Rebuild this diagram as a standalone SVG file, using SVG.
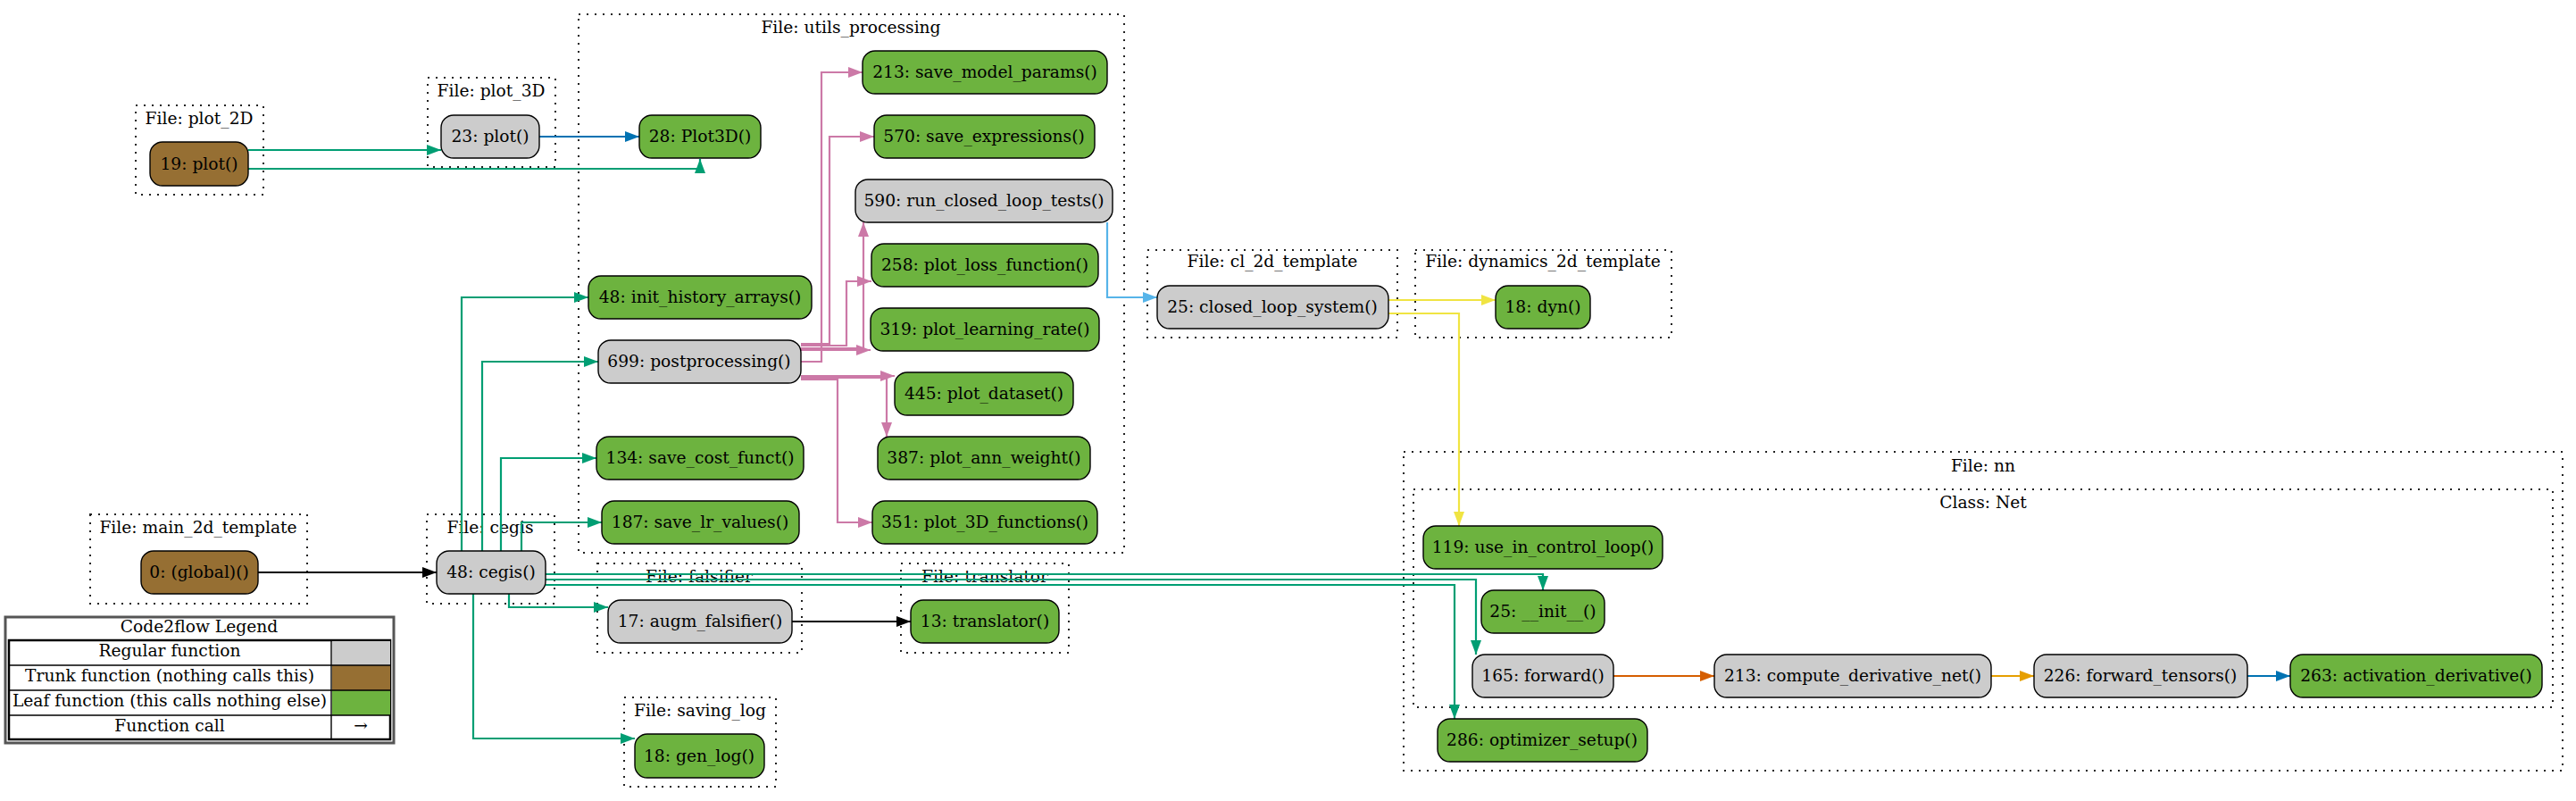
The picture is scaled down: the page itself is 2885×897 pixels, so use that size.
<svg xmlns="http://www.w3.org/2000/svg" width="2885" height="897" viewBox="0 0 2885 897">
<style>
text{font-family:"DejaVu Serif","Liberation Serif",serif;font-size:18.67px;fill:#000;text-anchor:middle}
.cl{fill:none;stroke:#222;stroke-width:2;stroke-dasharray:2,7}
.n rect{stroke:#000;stroke-width:1.4}
.reg{fill:#cccccc}
.trk{fill:#966f33}
.leaf{fill:#6db33f}
.e{fill:none;stroke-width:2.2}
.g{stroke:#009e73}.p{stroke:#cc79a7}.b{stroke:#0072b2}.s{stroke:#56b4e9}.y{stroke:#f0e442}.k{stroke:#000}.o{stroke:#e69f00}.v{stroke:#d55e00}
</style>
<defs>
<marker id="ag" markerUnits="userSpaceOnUse" markerWidth="17" markerHeight="13" refX="16" refY="6" orient="auto"><path d="M0,0L16,6L0,12z" fill="#009e73"/></marker>
<marker id="ap" markerUnits="userSpaceOnUse" markerWidth="17" markerHeight="13" refX="16" refY="6" orient="auto"><path d="M0,0L16,6L0,12z" fill="#cc79a7"/></marker>
<marker id="ab" markerUnits="userSpaceOnUse" markerWidth="17" markerHeight="13" refX="16" refY="6" orient="auto"><path d="M0,0L16,6L0,12z" fill="#0072b2"/></marker>
<marker id="as" markerUnits="userSpaceOnUse" markerWidth="17" markerHeight="13" refX="16" refY="6" orient="auto"><path d="M0,0L16,6L0,12z" fill="#56b4e9"/></marker>
<marker id="ay" markerUnits="userSpaceOnUse" markerWidth="17" markerHeight="13" refX="16" refY="6" orient="auto"><path d="M0,0L16,6L0,12z" fill="#f0e442"/></marker>
<marker id="ak" markerUnits="userSpaceOnUse" markerWidth="17" markerHeight="13" refX="16" refY="6" orient="auto"><path d="M0,0L16,6L0,12z" fill="#000"/></marker>
<marker id="ao" markerUnits="userSpaceOnUse" markerWidth="17" markerHeight="13" refX="16" refY="6" orient="auto"><path d="M0,0L16,6L0,12z" fill="#e69f00"/></marker>
<marker id="av" markerUnits="userSpaceOnUse" markerWidth="17" markerHeight="13" refX="16" refY="6" orient="auto"><path d="M0,0L16,6L0,12z" fill="#d55e00"/></marker>
</defs>
<rect width="2885" height="897" fill="#fff"/>

<g id="clusters">
<g id="cluster_plot_2D"><rect class="cl" x="152" y="118" width="143" height="100"/><text x="223" y="139">File: plot_2D</text></g>
<g id="cluster_plot_3D"><rect class="cl" x="479" y="87" width="143" height="100"/><text x="550" y="108">File: plot_3D</text></g>
<g id="cluster_utils_processing"><rect class="cl" x="648" y="16" width="611" height="603"/><text x="953" y="37">File: utils_processing</text></g>
<g id="cluster_main_2d_template"><rect class="cl" x="101" y="576" width="243" height="100"/><text x="222" y="597">File: main_2d_template</text></g>
<g id="cluster_cegis"><rect class="cl" x="478" y="576" width="143" height="100"/><text x="549" y="597">File: cegis</text></g>
<g id="cluster_falsifier"><rect class="cl" x="669" y="631" width="229" height="100"/><text x="783" y="652">File: falsifier</text></g>
<g id="cluster_translator"><rect class="cl" x="1009" y="631" width="188" height="100"/><text x="1103" y="652">File: translator</text></g>
<g id="cluster_saving_log"><rect class="cl" x="699" y="781" width="170" height="100"/><text x="784" y="802">File: saving_log</text></g>
<g id="cluster_cl_2d_template"><rect class="cl" x="1285" y="280" width="280" height="98"/><text x="1425" y="299">File: cl_2d_template</text></g>
<g id="cluster_dynamics_2d_template"><rect class="cl" x="1585" y="280" width="287" height="98"/><text x="1728" y="299">File: dynamics_2d_template</text></g>
<g id="cluster_nn"><rect class="cl" x="1572" y="506" width="1298" height="357"/><text x="2221" y="528">File: nn</text></g>
<g id="cluster_Net"><rect class="cl" x="1583" y="548" width="1276" height="244"/><text x="2221" y="569">Class: Net</text></g>
</g>

<g id="edges">
<path class="e g" d="M278,168H494" marker-end="url(#ag)"/>
<path class="e g" d="M278,189H784V178" marker-end="url(#ag)"/>
<path class="e b" d="M604,153H716" marker-end="url(#ab)"/>
<path class="e g" d="M517,617V333H659" marker-end="url(#ag)"/>
<path class="e g" d="M540,617V405H670" marker-end="url(#ag)"/>
<path class="e g" d="M561,617V513H668" marker-end="url(#ag)"/>
<path class="e g" d="M584,617V585H674" marker-end="url(#ag)"/>
<path class="e g" d="M570,665V680H681" marker-end="url(#ag)"/>
<path class="e g" d="M530,665V827H711" marker-end="url(#ag)"/>
<path class="e g" d="M611,643H1728V661" marker-end="url(#ag)"/>
<path class="e g" d="M611,649H1653V733" marker-end="url(#ag)"/>
<path class="e g" d="M611,655H1629V805" marker-end="url(#ag)"/>
<path class="e k" d="M289,641H489" marker-end="url(#ak)"/>
<path class="e k" d="M887,696H1020" marker-end="url(#ak)"/>
<path class="e p" d="M897,405H920V81H966" marker-end="url(#ap)"/>
<path class="e p" d="M897,385H929V153H979" marker-end="url(#ap)"/>
<path class="e p" d="M897,390H967V249" marker-end="url(#ap)"/>
<path class="e p" d="M897,387H948V315H976" marker-end="url(#ap)"/>
<path class="e p" d="M897,392H975" marker-end="url(#ap)"/>
<path class="e p" d="M897,421H1002" marker-end="url(#ap)"/>
<path class="e p" d="M897,423H993V489" marker-end="url(#ap)"/>
<path class="e p" d="M897,425H938V585H977" marker-end="url(#ap)"/>
<path class="e s" d="M1240,249V333H1296" marker-end="url(#as)"/>
<path class="e y" d="M1555,336H1675" marker-end="url(#ay)"/>
<path class="e y" d="M1555,351H1634V589" marker-end="url(#ay)"/>
<path class="e v" d="M1807,757H1920" marker-end="url(#av)"/>
<path class="e o" d="M2230,757H2278" marker-end="url(#ao)"/>
<path class="e b" d="M2517,757H2565" marker-end="url(#ab)"/>
</g>

<g id="n_plot2d_19" class="n"><rect class="trk" x="168" y="159" width="110" height="49" rx="14"/><text x="223" y="190">19: plot()</text></g>
<g id="n_plot3d_23" class="n"><rect class="reg" x="494" y="129" width="110" height="48" rx="14"/><text x="549" y="159">23: plot()</text></g>
<g id="n_u_28" class="n"><rect class="leaf" x="716" y="129" width="136" height="48" rx="14"/><text x="784" y="159">28: Plot3D()</text></g>
<g id="n_u_213" class="n"><rect class="leaf" x="966" y="57" width="274" height="48" rx="14"/><text x="1103" y="87">213: save_model_params()</text></g>
<g id="n_u_570" class="n"><rect class="leaf" x="979" y="129" width="247" height="48" rx="14"/><text x="1102" y="159">570: save_expressions()</text></g>
<g id="n_u_590" class="n"><rect class="reg" x="958" y="201" width="288" height="48" rx="14"/><text x="1102" y="231">590: run_closed_loop_tests()</text></g>
<g id="n_u_258" class="n"><rect class="leaf" x="976" y="273" width="254" height="48" rx="14"/><text x="1103" y="303">258: plot_loss_function()</text></g>
<g id="n_u_319" class="n"><rect class="leaf" x="975" y="345" width="256" height="48" rx="14"/><text x="1103" y="375">319: plot_learning_rate()</text></g>
<g id="n_u_48" class="n"><rect class="leaf" x="659" y="309" width="250" height="48" rx="14"/><text x="784" y="339">48: init_history_arrays()</text></g>
<g id="n_u_699" class="n"><rect class="reg" x="670" y="381" width="227" height="48" rx="14"/><text x="783" y="411">699: postprocessing()</text></g>
<g id="n_u_445" class="n"><rect class="leaf" x="1002" y="417" width="200" height="48" rx="14"/><text x="1102" y="447">445: plot_dataset()</text></g>
<g id="n_u_134" class="n"><rect class="leaf" x="668" y="489" width="232" height="48" rx="14"/><text x="784" y="519">134: save_cost_funct()</text></g>
<g id="n_u_387" class="n"><rect class="leaf" x="983" y="489" width="238" height="48" rx="14"/><text x="1102" y="519">387: plot_ann_weight()</text></g>
<g id="n_u_187" class="n"><rect class="leaf" x="674" y="561" width="221" height="48" rx="14"/><text x="784" y="591">187: save_lr_values()</text></g>
<g id="n_u_351" class="n"><rect class="leaf" x="977" y="561" width="252" height="48" rx="14"/><text x="1103" y="591">351: plot_3D_functions()</text></g>
<g id="n_main_0" class="n"><rect class="trk" x="158" y="617" width="131" height="48" rx="14"/><text x="223" y="647">0: (global)()</text></g>
<g id="n_cegis_48" class="n"><rect class="reg" x="489" y="617" width="122" height="48" rx="14"/><text x="550" y="647">48: cegis()</text></g>
<g id="n_fals_17" class="n"><rect class="reg" x="681" y="672" width="206" height="48" rx="14"/><text x="784" y="702">17: augm_falsifier()</text></g>
<g id="n_trans_13" class="n"><rect class="leaf" x="1020" y="672" width="166" height="48" rx="14"/><text x="1103" y="702">13: translator()</text></g>
<g id="n_log_18" class="n"><rect class="leaf" x="711" y="822" width="145" height="49" rx="14"/><text x="783" y="853">18: gen_log()</text></g>
<g id="n_cl_25" class="n"><rect class="reg" x="1296" y="320" width="259" height="48" rx="14"/><text x="1425" y="350">25: closed_loop_system()</text></g>
<g id="n_dyn_18" class="n"><rect class="leaf" x="1675" y="320" width="106" height="48" rx="14"/><text x="1728" y="350">18: dyn()</text></g>
<g id="n_nn_119" class="n"><rect class="leaf" x="1594" y="589" width="268" height="48" rx="14"/><text x="1728" y="619">119: use_in_control_loop()</text></g>
<g id="n_nn_25" class="n"><rect class="leaf" x="1659" y="661" width="138" height="48" rx="14"/><text x="1728" y="691">25: __init__()</text></g>
<g id="n_nn_165" class="n"><rect class="reg" x="1649" y="733" width="158" height="48" rx="14"/><text x="1728" y="763">165: forward()</text></g>
<g id="n_nn_213" class="n"><rect class="reg" x="1920" y="733" width="310" height="48" rx="14"/><text x="2075" y="763">213: compute_derivative_net()</text></g>
<g id="n_nn_226" class="n"><rect class="reg" x="2278" y="733" width="239" height="48" rx="14"/><text x="2397" y="763">226: forward_tensors()</text></g>
<g id="n_nn_263" class="n"><rect class="leaf" x="2565" y="733" width="282" height="48" rx="14"/><text x="2706" y="763">263: activation_derivative()</text></g>
<g id="n_nn_286" class="n"><rect class="leaf" x="1610" y="805" width="235" height="48" rx="14"/><text x="1727" y="835">286: optimizer_setup()</text></g>

<g id="legend">
<rect x="6" y="691" width="435" height="141" fill="#fff" stroke="#555" stroke-width="3"/>
<text x="223" y="708">Code2flow Legend</text>
<rect x="10" y="717" width="427" height="111" fill="#fff" stroke="#000" stroke-width="2.5"/>
<rect x="372" y="718" width="65" height="27" fill="#cccccc"/>
<rect x="372" y="745" width="65" height="28" fill="#966f33"/>
<rect x="372" y="773" width="65" height="28" fill="#6db33f"/>
<path d="M10,745H437M10,773H437M10,801H437M371,717V828" stroke="#000" stroke-width="1.4" fill="none"/>
<text x="190" y="735">Regular function</text>
<text x="190" y="763">Trunk function (nothing calls this)</text>
<text x="190" y="791">Leaf function (this calls nothing else)</text>
<text x="190" y="819">Function call</text>
<text x="404" y="819">→</text>
</g>
</svg>
